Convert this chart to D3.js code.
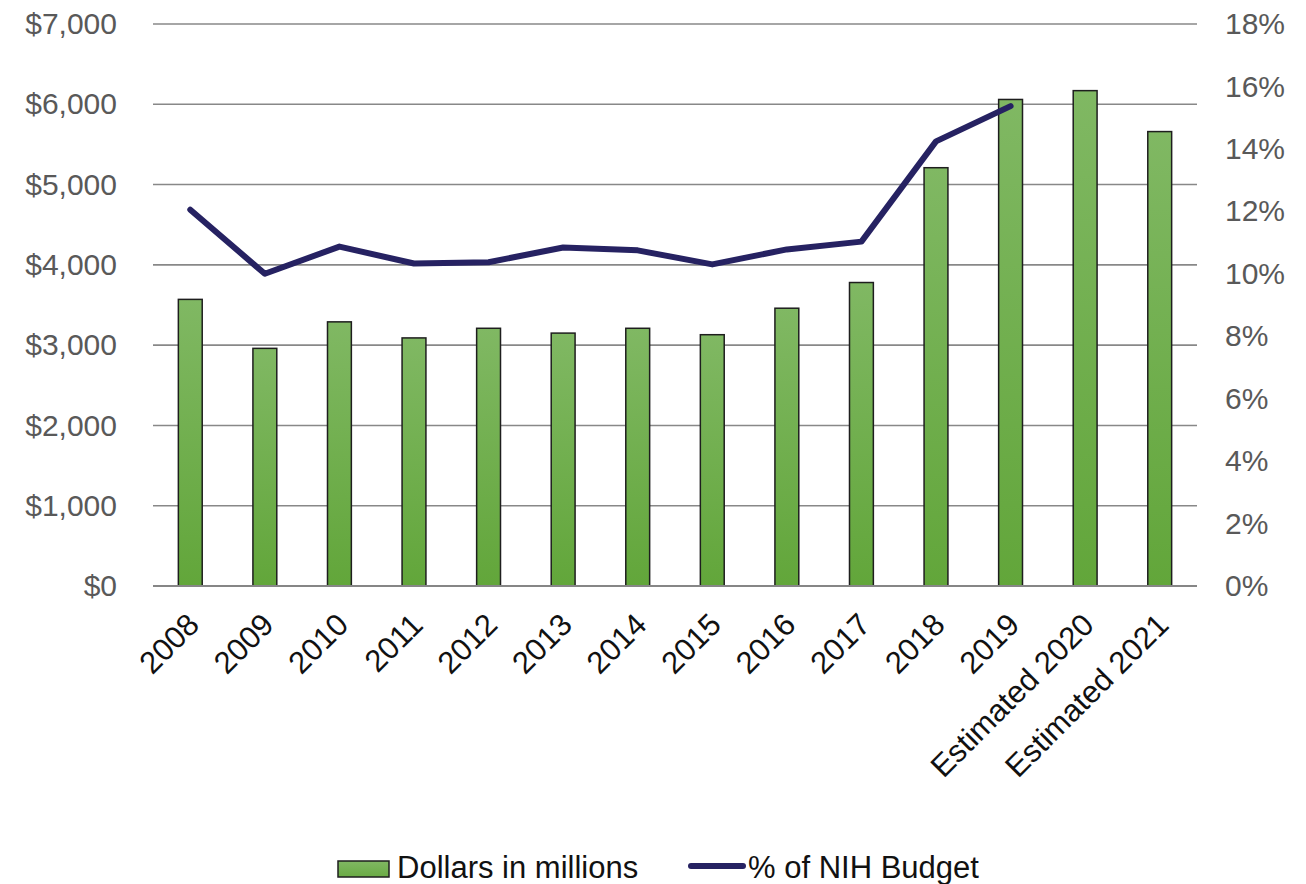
<!DOCTYPE html>
<html>
<head>
<meta charset="utf-8">
<script src="https://cdn.jsdelivr.net/npm/d3@7"></script>
<style>
  body { margin: 0; background: #fff; }
  svg text { font-family: "Liberation Sans", Arial, sans-serif; }
</style>
</head>
<body>
<svg id="chart" width="1306" height="884"></svg>
<script>
// data
const years = ["2008", "2009", "2010", "2011", "2012", "2013", "2014", "2015",
               "2016", "2017", "2018", "2019", "Estimated 2020", "Estimated 2021"];
const dollars = [3570, 2960, 3290, 3090, 3210, 3150, 3210, 3130, 3460, 3780, 5210, 6060, 6170, 5660];
const pctYears = ["2008", "2009", "2010", "2011", "2012", "2013", "2014", "2015", "2016", "2017", "2018", "2019"];
const pctNih = [12.05, 10.0, 10.87, 10.33, 10.37, 10.84, 10.75, 10.3, 10.78, 11.03, 14.24, 15.37];
const dollarTicks = [0, 1000, 2000, 3000, 4000, 5000, 6000, 7000];
const pctTicks = [0, 2, 4, 6, 8, 10, 12, 14, 16, 18];

const svg = d3.select("#chart");
const plotLeft = 153, plotRight = 1197, plotTop = 24, plotBottom = 586;

const x = d3.scaleBand().domain(years).range([plotLeft, plotRight]).paddingInner(0.68).paddingOuter(0.34);
const y = d3.scaleLinear().domain([0, 7000]).range([plotBottom, plotTop]);
const y2 = d3.scaleLinear().domain([0, 18]).range([plotBottom, plotTop]);

// gradient for bars
const defs = svg.append("defs");
const grad = defs.append("linearGradient").attr("id", "barGrad")
    .attr("x1", 0).attr("y1", 0).attr("x2", 0).attr("y2", 1);
grad.append("stop").attr("offset", "0%").attr("stop-color", "#80b863");
grad.append("stop").attr("offset", "100%").attr("stop-color", "#62a63a");

const legGrad = defs.append("linearGradient").attr("id", "legGrad")
    .attr("x1", 0).attr("y1", 0).attr("x2", 0).attr("y2", 1);
legGrad.append("stop").attr("offset", "0%").attr("stop-color", "#80b863");
legGrad.append("stop").attr("offset", "100%").attr("stop-color", "#6aab44");

// gridlines
svg.append("g").selectAll("line")
  .data(dollarTicks.filter(d => d > 0))
  .join("line")
    .attr("x1", plotLeft).attr("x2", plotRight)
    .attr("y1", d => y(d)).attr("y2", d => y(d))
    .attr("stroke", "#888")
    .attr("stroke-width", 1.6);

// left axis labels
const yAxis = svg.append("g")
    .attr("transform", `translate(${plotLeft - 36},0)`)
    .call(d3.axisLeft(y).tickValues(dollarTicks).tickSize(0).tickPadding(0)
      .tickFormat(d => "$" + d3.format(",")(d)));
yAxis.select(".domain").remove();
yAxis.selectAll("text").attr("font-size", 30).attr("fill", "#595959")
    .attr("font-family", "Liberation Sans, Arial, sans-serif");

// right axis labels
const y2Axis = svg.append("g")
    .attr("transform", `translate(${plotRight + 28},0)`)
    .call(d3.axisRight(y2).tickValues(pctTicks).tickSize(0).tickPadding(0)
      .tickFormat(d => d + "%"));
y2Axis.select(".domain").remove();
y2Axis.selectAll("text").attr("font-size", 30).attr("fill", "#595959")
    .attr("font-family", "Liberation Sans, Arial, sans-serif");

// bars
svg.append("g").selectAll("rect")
  .data(years.map((c, i) => ({ c, v: dollars[i] })))
  .join("rect")
    .attr("x", d => x(d.c))
    .attr("y", d => y(d.v))
    .attr("width", x.bandwidth())
    .attr("height", d => y(0) - y(d.v))
    .attr("fill", "url(#barGrad)")
    .attr("stroke", "#1e1e1e")
    .attr("stroke-width", 1.5);

// baseline
svg.append("line")
    .attr("x1", plotLeft).attr("x2", plotRight)
    .attr("y1", plotBottom).attr("y2", plotBottom)
    .attr("stroke", "#868686").attr("stroke-width", 2);

// category labels
const xAxis = svg.append("g")
    .attr("transform", `translate(0,${plotBottom})`)
    .call(d3.axisBottom(x).tickSize(0).tickPadding(0));
xAxis.select(".domain").remove();
xAxis.selectAll("text")
    .attr("font-size", 31)
    .attr("fill", "#111")
    .attr("font-family", "Liberation Sans, Arial, sans-serif")
    .attr("text-anchor", "end")
    .attr("dy", "0.35em")
    .attr("y", 0)
    .attr("transform", "translate(3,33) rotate(-45)");

// percent line
const line = d3.line()
    .x((d, i) => x(pctYears[i]) + x.bandwidth() / 2)
    .y(d => y2(d));
svg.append("path")
    .datum(pctNih)
    .attr("fill", "none")
    .attr("stroke", "#262262")
    .attr("stroke-width", 6)
    .attr("stroke-linejoin", "round")
    .attr("stroke-linecap", "round")
    .attr("d", line);

// legend
const legend = svg.append("g");
legend.append("rect")
    .attr("x", 338).attr("y", 861).attr("width", 51).attr("height", 16)
    .attr("fill", "url(#legGrad)").attr("stroke", "#1e1e1e").attr("stroke-width", 1.5);
legend.append("text")
    .attr("x", 397).attr("y", 878)
    .attr("font-size", 31).attr("fill", "#111")
    .text("Dollars in millions");
legend.append("line")
    .attr("x1", 691).attr("x2", 743).attr("y1", 866).attr("y2", 866)
    .attr("stroke", "#262262").attr("stroke-width", 6).attr("stroke-linecap", "round");
legend.append("text")
    .attr("x", 748).attr("y", 878)
    .attr("font-size", 31).attr("fill", "#111")
    .text("% of NIH Budget");
</script>
</body>
</html>
